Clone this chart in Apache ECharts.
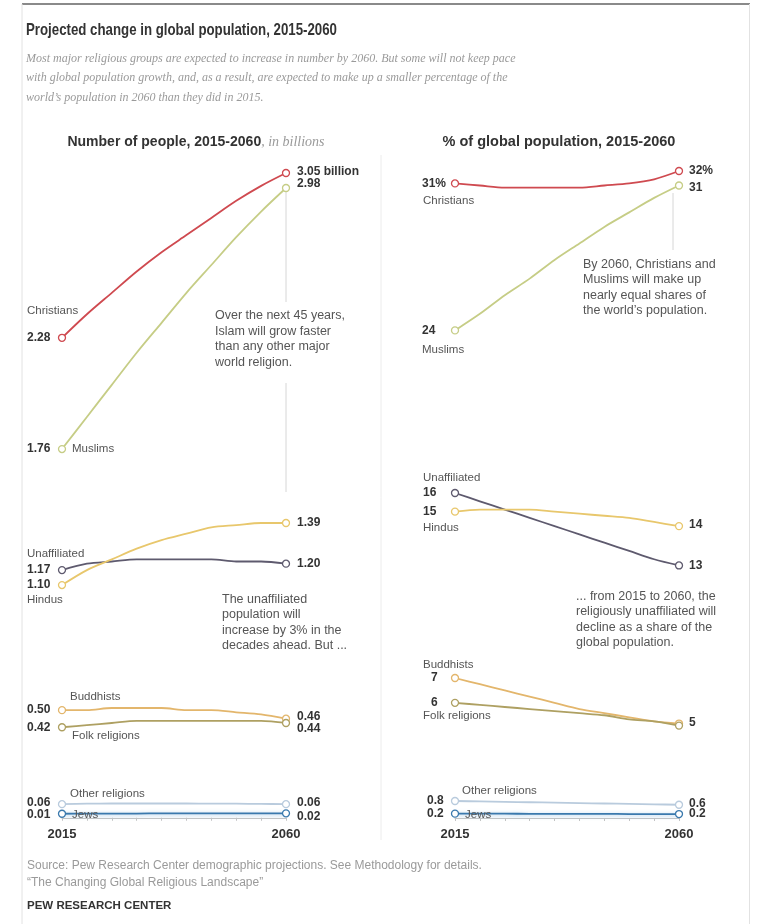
<!DOCTYPE html>
<html>
<head>
<meta charset="utf-8">
<script src="https://cdn.jsdelivr.net/npm/echarts@6/dist/echarts.min.js"></script>
<style>
  html, body { margin: 0; padding: 0; background: #fff; }
  #chart { width: 757px; height: 924px; }
</style>
</head>
<body>
<div id="chart"></div>
<script>
// ---- Data ----------------------------------------------------------------
const years = [2015, 2020, 2025, 2030, 2035, 2040, 2045, 2050, 2055, 2060];

// Number of people, in billions
const christiansPop   = [2.28, 2.39, 2.49, 2.59, 2.68, 2.76, 2.84, 2.92, 2.99, 3.05];
const muslimsPop      = [1.76, 1.91, 2.06, 2.21, 2.35, 2.49, 2.62, 2.75, 2.87, 2.98];
const unaffiliatedPop = [1.17, 1.20, 1.21, 1.22, 1.22, 1.22, 1.22, 1.21, 1.21, 1.20];
const hindusPop       = [1.10, 1.17, 1.22, 1.27, 1.31, 1.34, 1.37, 1.38, 1.39, 1.39];
const buddhistsPop    = [0.50, 0.50, 0.51, 0.51, 0.51, 0.50, 0.50, 0.49, 0.48, 0.46];
const folkPop         = [0.42, 0.43, 0.44, 0.45, 0.45, 0.45, 0.45, 0.45, 0.45, 0.44];
const otherPop        = [0.059, 0.061, 0.062, 0.062, 0.062, 0.062, 0.061, 0.061, 0.060, 0.059];
const jewsPop         = [0.014, 0.015, 0.015, 0.015, 0.016, 0.016, 0.016, 0.016, 0.016, 0.016];

// Share of global population, in percent
const christiansPct   = [31.2, 31.1, 31.0, 31.0, 31.0, 31.0, 31.1, 31.2, 31.4, 31.8];
const muslimsPct      = [24.1, 24.9, 25.8, 26.6, 27.5, 28.3, 29.1, 29.8, 30.5, 31.1];
const unaffiliatedPct = [16.0, 15.6, 15.2, 14.8, 14.4, 14.0, 13.6, 13.2, 12.8, 12.5];
const hindusPct       = [15.1, 15.2, 15.2, 15.2, 15.1, 15.0, 14.9, 14.8, 14.6, 14.4];
const buddhistsPct    = [6.9, 6.6, 6.3, 6.0, 5.7, 5.4, 5.2, 5.0, 4.8, 4.7];
const folkPct         = [5.7, 5.6, 5.5, 5.4, 5.3, 5.2, 5.1, 4.9, 4.8, 4.6];
const otherPct        = [0.80, 0.78, 0.76, 0.74, 0.72, 0.70, 0.68, 0.66, 0.64, 0.62];
const jewsPct         = [0.19, 0.19, 0.19, 0.18, 0.18, 0.18, 0.18, 0.17, 0.17, 0.17];

const tickYears = [2015, 2060];

// ---- Styling ---------------------------------------------------------------
const SANS = "'Liberation Sans Narrow', 'Liberation Sans', Arial, sans-serif";
const SERIF = "'Liberation Serif', 'DejaVu Serif', serif";

const COLORS = {
  christians: '#cf4a50',
  muslims: '#c6cd86',
  unaffiliated: '#5e5a6e',
  hindus: '#e8c76c',
  buddhists: '#e3b66c',
  folk: '#aea062',
  other: '#b9cbdd',
  jews: '#3a79ad'
};

const PX_PER_BILLION = 214;
const PX_PER_POINT = 20.7;

const fmt2 = v => v.toFixed(2);
const fmtInt = v => String(Math.round(v));
const fmt1 = v => v.toFixed(1);

// Each panel is split into bands that share one vertical scale
const panels = [
  {
    left: 62, width: 224, scale: PX_PER_BILLION,
    groups: [
      { top: 173, fmt: fmt2, series: [
        { name: 'Christians', data: christiansPop, color: COLORS.christians, nameOff: [-35, -27], start: [-35, 0], end: [11, -1], endSuffix: ' billion' },
        { name: 'Muslims', data: muslimsPop, color: COLORS.muslims, nameOff: [10, 0], start: [-35, 0], end: [11, -4] }
      ]},
      { top: 523, fmt: fmt2, series: [
        { name: 'Unaffiliated', data: unaffiliatedPop, color: COLORS.unaffiliated, nameOff: [-35, -16], start: [-35, 0], end: [11, 0] },
        { name: 'Hindus', data: hindusPop, color: COLORS.hindus, nameOff: [-35, 15], start: [-35, 0], end: [11, 0] }
      ]},
      { top: 708, fmt: fmt2, series: [
        { name: 'Buddhists', data: buddhistsPop, color: COLORS.buddhists, nameOff: [8, -13], start: [-35, 0], end: [11, -2] },
        { name: 'Folk religions', data: folkPop, color: COLORS.folk, nameOff: [10, 9], start: [-35, 0], end: [11, 6] }
      ]},
      { top: 803.5, fmt: fmt2, bottom: true, series: [
        { name: 'Other religions', data: otherPop, color: COLORS.other, nameOff: [8, -10], start: [-35, -1], end: [11, -1] },
        { name: 'Jews', data: jewsPop, color: COLORS.jews, nameOff: [10, 1], start: [-35, 1], end: [11, 3], halo: true }
      ]}
    ]
  },
  {
    left: 455, width: 224, scale: PX_PER_POINT,
    groups: [
      { top: 171, fmt: fmtInt, series: [
        { name: 'Christians', data: christiansPct, color: COLORS.christians, nameOff: [-32, 17], start: [-33, 0], end: [10, 0], startSuffix: '%', endSuffix: '%' },
        { name: 'Muslims', data: muslimsPct, color: COLORS.muslims, nameOff: [-33, 19], start: [-33, 0], end: [10, 2] }
      ]},
      { top: 493, fmt: fmtInt, series: [
        { name: 'Unaffiliated', data: unaffiliatedPct, color: COLORS.unaffiliated, nameOff: [-32, -15], start: [-32, 0], end: [10, 0] },
        { name: 'Hindus', data: hindusPct, color: COLORS.hindus, nameOff: [-32, 16], start: [-32, 0], end: [10, -1] }
      ]},
      { top: 678, fmt: fmtInt, series: [
        { name: 'Buddhists', data: buddhistsPct, color: COLORS.buddhists, nameOff: [-32, -13], start: [-24, 0], end: [10, -1] },
        { name: 'Folk religions', data: folkPct, color: COLORS.folk, nameOff: [-32, 13], start: [-24, 0], end: null }
      ]},
      { top: 801, fmt: fmt1, bottom: true, series: [
        { name: 'Other religions', data: otherPct, color: COLORS.other, nameOff: [7, -10], start: [-28, 0], end: [10, -1] },
        { name: 'Jews', data: jewsPct, color: COLORS.jews, nameOff: [10, 1], start: [-28, 0], end: [10, 0], halo: true }
      ]}
    ]
  }
];

// ---- Build option ----------------------------------------------------------
const grids = [], xAxes = [], yAxes = [], series = [];

function valueLabel(text, off) {
  return {
    show: true, position: 'inside', align: 'left', verticalAlign: 'middle',
    offset: off, formatter: () => text,
    fontFamily: SANS, fontSize: 12, fontWeight: 'bold', color: '#333'
  };
}

panels.forEach(panel => {
  panel.groups.forEach(group => {
    const all = group.series.flatMap(s => s.data);
    const vMax = Math.max(...all), vMin = Math.min(...all);
    const gi = grids.length;
    grids.push({ left: panel.left, width: panel.width, top: group.top, height: (vMax - vMin) * panel.scale, containLabel: false });
    xAxes.push({
      type: 'value', gridIndex: gi, min: 2015, max: 2060, interval: 5,
      show: !!group.bottom, position: 'bottom', offset: 4,
      axisLine: { show: true, lineStyle: { color: '#c4c4c4', width: 1 } },
      axisTick: { show: true, length: 3, lineStyle: { color: '#c4c4c4' } },
      splitLine: { show: false },
      axisLabel: {
        margin: 10, fontFamily: SANS, fontSize: 13, fontWeight: 'bold', color: '#333',
        formatter: v => tickYears.includes(v) ? String(v) : ''
      }
    });
    yAxes.push({ type: 'value', gridIndex: gi, min: vMin, max: vMax, show: false, splitLine: { show: false } });

    group.series.forEach(spec => {
      const n = spec.data.length;
      const data = spec.data.map((v, i) => {
        const item = { value: [years[i], v] };
        if (i === 0 && spec.start) item.label = valueLabel(group.fmt(v) + (spec.startSuffix || ''), spec.start);
        if (i === n - 1 && spec.end) item.label = valueLabel(group.fmt(v) + (spec.endSuffix || ''), spec.end);
        return item;
      });
      const lineStyle = { color: spec.color, width: 1.8 };
      if (spec.halo) Object.assign(lineStyle, { shadowColor: 'rgba(120,175,220,0.7)', shadowBlur: 4, shadowOffsetY: 1 });
      series.push({
        type: 'line', name: spec.name, xAxisIndex: gi, yAxisIndex: gi,
        data, smooth: 0.3, clip: false, animation: false,
        showSymbol: true, showAllSymbol: true,
        symbol: (val, p) => (p.dataIndex === 0 || p.dataIndex === n - 1) ? 'circle' : 'none',
        symbolSize: 7,
        lineStyle,
        itemStyle: { color: '#fff', borderColor: spec.color, borderWidth: 1.3 },
        label: { show: false },
        emphasis: { disabled: true },
        silent: true,
        markPoint: {
          silent: true, animation: false,
          symbol: 'circle', symbolSize: 1,
          itemStyle: { color: 'rgba(0,0,0,0)' },
          label: {
            show: true, position: 'inside', align: 'left', verticalAlign: 'middle',
            offset: spec.nameOff, formatter: () => spec.name,
            fontFamily: SANS, fontSize: 11.5, color: '#555'
          },
          data: [{ coord: [years[0], spec.data[0]] }]
        }
      });
    });
  });
});

// Static text and frame
function txt(x, y, text, style, extra) {
  return Object.assign({ type: 'text', x, y, silent: true, style: Object.assign({ text, fontFamily: SANS, fontSize: 12.5, fill: '#555' }, style) }, extra || {});
}
function line(x1, y1, x2, y2, stroke, w) {
  return { type: 'line', silent: true, shape: { x1, y1, x2, y2 }, style: { stroke, lineWidth: w || 1 } };
}

const graphic = [
  line(22, 4, 750, 4, '#8a8a8a', 2),
  line(22, 4, 22, 924, '#e2e2e2', 1),
  line(749.5, 4, 749.5, 924, '#e2e2e2', 1),
  line(381, 155, 381, 840, '#ececec', 1),
  line(286, 192, 286, 302, '#d6d6d6', 1),
  line(286, 383, 286, 492, '#d6d6d6', 1),
  line(673, 193, 673, 250, '#d6d6d6', 1),

  // condensed headline
  txt(26, 30, 'Projected change in global population, 2015-2060',
    { fontSize: 17, fontWeight: 'bold', fill: '#333', verticalAlign: 'middle' }, { scaleX: 0.78 }),
  txt(26, 49, 'Most major religious groups are expected to increase in number by 2060. But some will not keep pace\nwith global population growth, and, as a result, are expected to make up a smaller percentage of the\nworld\u2019s population in 2060 than they did in 2015.',
    { fontFamily: SERIF, fontStyle: 'italic', fontSize: 12, fill: '#9a9a9a', lineHeight: 19.5 }),

  { type: 'text', x: 196, y: 142, silent: true, style: {
      text: '{b|Number of people, 2015-2060}{i|, in billions}', align: 'center', verticalAlign: 'middle',
      rich: {
        b: { fontFamily: SANS, fontSize: 14, fontWeight: 'bold', fill: '#333' },
        i: { fontFamily: SERIF, fontStyle: 'italic', fontSize: 14, fill: '#9a9a9a' }
      } } },
  txt(559, 142, '% of global population, 2015-2060',
    { fontSize: 14.5, fontWeight: 'bold', fill: '#333', align: 'center', verticalAlign: 'middle' }),

  txt(215, 308, 'Over the next 45 years,\nIslam will grow faster\nthan any other major\nworld religion.', { lineHeight: 15.5 }),
  txt(222, 592, 'The unaffiliated\npopulation will\nincrease by 3% in the\ndecades ahead. But ...', { lineHeight: 15.3 }),
  txt(583, 257, 'By 2060, Christians and\nMuslims will make up\nnearly equal shares of\nthe world\u2019s population.', { lineHeight: 15.3 }),
  txt(576, 589, '... from 2015 to 2060, the\nreligiously unaffiliated will\ndecline as a share of the\nglobal population.', { lineHeight: 15.3 }),

  txt(27, 857, 'Source: Pew Research Center demographic projections. See Methodology for details.\n\u201cThe Changing Global Religious Landscape\u201d',
    { fontSize: 12, fill: '#9a9a9a', lineHeight: 17 }),
  txt(27, 906, 'PEW RESEARCH CENTER', { fontSize: 11.5, fontWeight: 'bold', fill: '#333', verticalAlign: 'middle' })
];

const chart = echarts.init(document.getElementById('chart'), null, { renderer: 'canvas' });
chart.setOption({
  backgroundColor: '#fff',
  animation: false,
  tooltip: { show: false },
  grid: grids,
  xAxis: xAxes,
  yAxis: yAxes,
  series,
  graphic
});
</script>
</body>
</html>
